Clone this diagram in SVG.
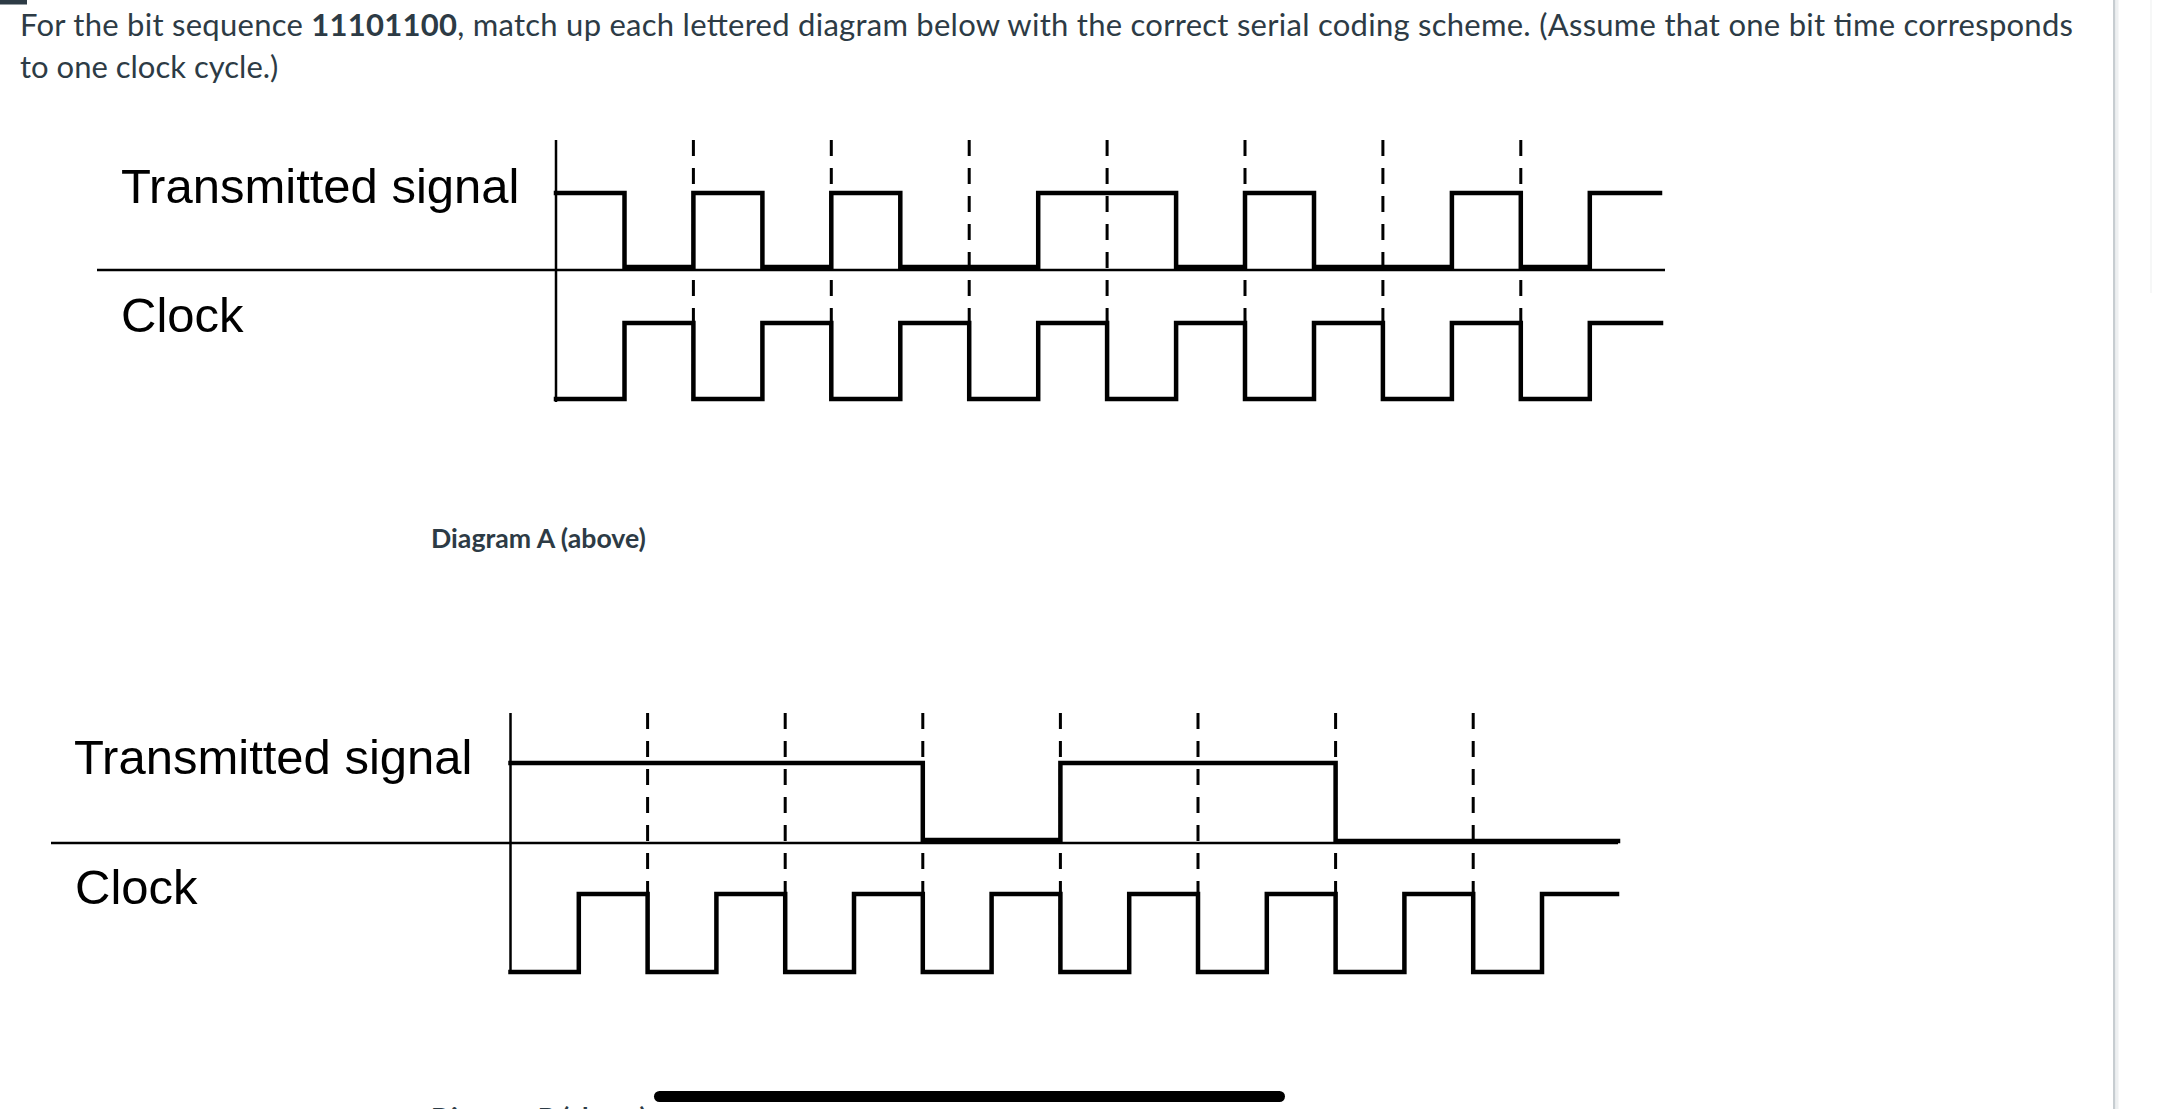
<svg xmlns="http://www.w3.org/2000/svg" width="2163" height="1109" viewBox="0 0 2163 1109">
<style>
.hdr{font-family:Lato,"Liberation Sans",sans-serif;font-size:31px;fill:#2d3b45}
.cap{font-family:Lato,"Liberation Sans",sans-serif;font-size:26.7px;font-weight:bold;fill:#2d3b45}
.lbl{font-family:"Liberation Sans",Arial,sans-serif;font-size:49px;fill:#000}
.axis{stroke:#000;stroke-width:2.5;fill:none}
.wave{stroke:#000;stroke-width:4.5;fill:none;stroke-linejoin:miter;stroke-linecap:square}
.dash{stroke:#000;stroke-width:3;stroke-dasharray:16 12;fill:none}
</style>
<rect width="2163" height="1109" fill="#fff"/>
<rect x="0" y="0" width="27" height="4.5" fill="#2d3b45"/>
<line x1="2151" y1="0" x2="2151" y2="293" stroke="#f3f4f5" stroke-width="1.5"/>
<rect x="2113" y="0" width="2.5" height="1109" fill="#c7cdd1"/>
<rect x="2115.5" y="0" width="3" height="1109" fill="#eef0f1"/>

<g id="header">
<text class="hdr" x="20" y="36" textLength="2053" lengthAdjust="spacing">For the bit sequence <tspan font-weight="bold">11101100</tspan>, match up each lettered diagram below with the correct serial coding scheme. (Assume that one bit time corresponds</text>
<text class="hdr" x="20" y="78">to one clock cycle.)</text>
</g>

<g id="diagramA">
<g id="diagramA-labels">
<text class="lbl" x="121" y="203">Transmitted signal</text>
<text class="lbl" x="121" y="332">Clock</text>
</g>
<g id="diagramA-axes">
<line class="axis" x1="97" y1="270" x2="1665" y2="270"/>
<line class="axis" x1="556" y1="140" x2="556" y2="402" stroke-width="2"/>
</g>
<g id="diagramA-gridlines">
<line class="dash" x1="693.4" y1="140" x2="693.4" y2="400"/>
<line class="dash" x1="831.3" y1="140" x2="831.3" y2="400"/>
<line class="dash" x1="969.2" y1="140" x2="969.2" y2="400"/>
<line class="dash" x1="1107.1" y1="140" x2="1107.1" y2="400"/>
<line class="dash" x1="1245" y1="140" x2="1245" y2="400"/>
<line class="dash" x1="1382.9" y1="140" x2="1382.9" y2="400"/>
<line class="dash" x1="1520.8" y1="140" x2="1520.8" y2="400"/>
</g>
<g id="diagramA-signal">
<path class="wave" d="M556,193 H624.5 V267 H693.4 V193 H762.4 V267 H831.3 V193 H900.3 V267 H1038.2 V193 H1176.1 V267 H1245 V193 H1314 V267 H1451.9 V193 H1520.8 V267 H1589.8 V193 H1660"/>
</g>
<g id="diagramA-clock">
<path class="wave" d="M556,399 H624.5 V323 H693.4 V399 H762.4 V323 H831.3 V399 H900.3 V323 H969.2 V399 H1038.2 V323 H1107.1 V399 H1176.1 V323 H1245 V399 H1314 V323 H1382.9 V399 H1451.9 V323 H1520.8 V399 H1589.8 V323 H1661"/>
</g>
<text id="captionA" class="cap" x="431" y="548">Diagram A (above)</text>
</g>

<g id="diagramB">
<g id="diagramB-labels">
<text class="lbl" x="74" y="774">Transmitted signal</text>
<text class="lbl" x="75" y="904">Clock</text>
</g>
<g id="diagramB-axes">
<line class="axis" x1="51" y1="843" x2="1618" y2="843"/>
<line class="axis" x1="510.5" y1="713" x2="510.5" y2="973" stroke-width="2"/>
</g>
<g id="diagramB-gridlines">
<line class="dash" x1="647.6" y1="713" x2="647.6" y2="972"/>
<line class="dash" x1="785.2" y1="713" x2="785.2" y2="972"/>
<line class="dash" x1="922.8" y1="713" x2="922.8" y2="972"/>
<line class="dash" x1="1060.4" y1="713" x2="1060.4" y2="972"/>
<line class="dash" x1="1198" y1="713" x2="1198" y2="972"/>
<line class="dash" x1="1335.6" y1="713" x2="1335.6" y2="972"/>
<line class="dash" x1="1473.2" y1="713" x2="1473.2" y2="972"/>
</g>
<g id="diagramB-signal">
<path class="wave" d="M510.5,763 H922.8 V840 H1060.4 V763 H1335.6 V841 H1618"/>
</g>
<g id="diagramB-clock">
<path class="wave" d="M510.5,972 H578.8 V894 H647.6 V972 H716.4 V894 H785.2 V972 H854 V894 H922.8 V972 H991.6 V894 H1060.4 V972 H1129.2 V894 H1198 V972 H1266.8 V894 H1335.6 V972 H1404.4 V894 H1473.2 V972 H1542 V894 H1617"/>
</g>
<text id="captionB" class="cap" x="431" y="1127">Diagram B (above)</text>
</g>

<rect id="scrollbar" x="654" y="1091" width="631" height="11" rx="5.5" fill="#000"/>
</svg>
